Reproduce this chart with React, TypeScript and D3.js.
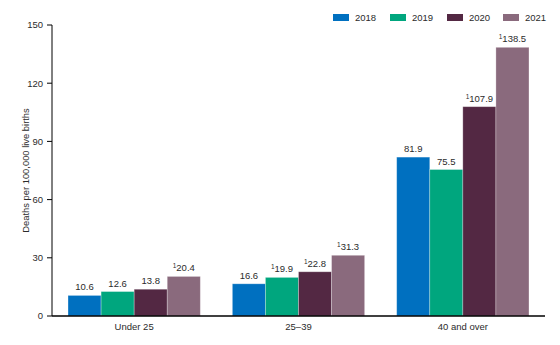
import React from "react";
import * as d3 from "d3";

const categories = ["Under 25", "25\u201339", "40 and over"];
const years = ["2018", "2019", "2020", "2021"];
const values2018 = [10.6, 16.6, 81.9];
const values2019 = [12.6, 19.9, 75.5];
const values2020 = [13.8, 22.8, 107.9];
const values2021 = [20.4, 31.3, 138.5];
const flag2018 = [false, false, false];
const flag2019 = [false, true, false];
const flag2020 = [false, true, true];
const flag2021 = [true, true, true];
const yTicks = [0, 30, 60, 90, 120, 150];
const colors = ["#0070C0", "#00A67E", "#532843", "#8A6A7D"];

const series = [values2018, values2019, values2020, values2021];
const flags = [flag2018, flag2019, flag2020, flag2021];

export default function App() {
  const W = 560, H = 345;
  const left = 52, right = 545, top = 25, bottom = 316;
  const y = d3.scaleLinear().domain([0, 150]).range([bottom, top]);
  const x0 = d3.scaleBand<string>().domain(categories).range([left, right]).paddingInner(0.195).paddingOuter(0.0975);
  const x1 = d3.scaleBand<string>().domain(years).range([0, x0.bandwidth()]).padding(0);
  const font = "Arial, 'Liberation Sans', Helvetica, sans-serif";
  const legendX = [333, 390, 447, 503];
  const fs = 9.5;
  const tc = "#2b2b2b";

  return (
    <svg width={W} height={H} style={{ position: "absolute", left: 0, top: 0 }} fontFamily={font}>
      <rect width={W} height={H} fill="#fff" />
      <line x1={left} x2={left} y1={top} y2={bottom} stroke="#000" strokeWidth={1} />
      {yTicks.map((t) => (
        <g key={t}>
          <line x1={left - 5} x2={left} y1={y(t)} y2={y(t)} stroke="#000" strokeWidth={1} />
          <text x={left - 9} y={y(t)} dy="0.35em" textAnchor="end" fontSize={fs} fill={tc}>{t}</text>
        </g>
      ))}
      <text transform={`translate(28.5,${(top + bottom) / 2}) rotate(-90)`} textAnchor="middle" fontSize={9.4} fill={tc}>
        Deaths per 100,000 live births
      </text>
      {categories.map((c, ci) => (
        <g key={c} transform={`translate(${x0(c)},0)`}>
          {years.map((yr, si) => {
            const v = series[si][ci];
            const bx = x1(yr)!;
            const bw = x1.bandwidth();
            return (
              <g key={yr}>
                <rect x={bx} y={y(v)} width={bw} height={bottom - y(v)} fill={colors[si]} stroke="#fff" strokeOpacity={0.35} strokeWidth={0.8} />
                <text x={bx + bw / 2} y={y(v) - 5} textAnchor="middle" fontSize={fs} fill={tc}>
                  {flags[si][ci] && <tspan fontSize={6.5} dy={-3}>1</tspan>}
                  <tspan dy={flags[si][ci] ? 3 : 0}>{v.toFixed(1)}</tspan>
                </text>
              </g>
            );
          })}
        </g>
      ))}
      <line x1={left} x2={right} y1={bottom} y2={bottom} stroke="#000" strokeWidth={1.5} />
      {categories.map((c) => (
        <text key={c} x={x0(c)! + x0.bandwidth() / 2} y={bottom + 14} textAnchor="middle" fontSize={fs} fill={tc}>{c}</text>
      ))}
      {years.map((yr, i) => (
        <g key={yr}>
          <rect x={legendX[i]} y={14} width={16} height={7} fill={colors[i]} />
          <text x={legendX[i] + 22} y={17.5} dy="0.35em" fontSize={fs} fill={tc}>{yr}</text>
        </g>
      ))}
    </svg>
  );
}
